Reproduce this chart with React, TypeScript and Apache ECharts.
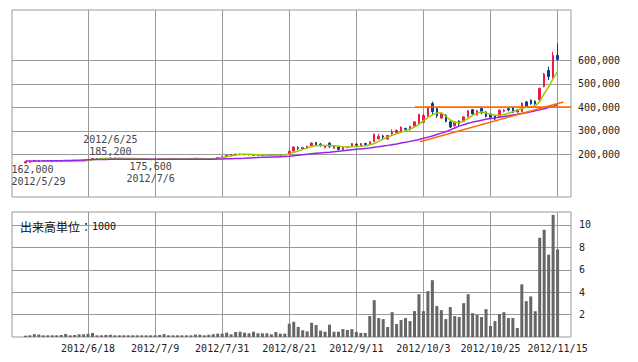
import React, { useEffect, useRef } from 'react';
import * as echarts from 'echarts';

// Daily candles 2012/5/29 - 2012/11/15: [open, close, low, high] (yen)
const ohlc: number[][] = [
  [163000,168000,162000,169000],[166000,170000,165000,171000],[170000,174000,169000,176000],[173000,171000,170000,175000],
  [172000,173000,170000,174000],[174000,171000,170000,175000],[171000,168000,167000,172000],[169000,170000,168000,171000],
  [170000,171000,169000,172000],[171000,172000,170000,173000],[172000,171000,170000,173000],[171000,172000,170000,173000],
  [172000,173000,171000,174000],[173000,172000,171000,174000],[174000,179000,173000,180000],[179000,182000,178000,183000],
  [182000,181000,180000,183000],[181000,183000,180000,184000],[183000,182000,181000,184000],[182000,184000,181000,185200],
  [184000,182000,181000,185000],[182000,183000,181000,184000],[183000,181000,180000,184000],[181000,182000,180000,183000],
  [182000,181000,180000,183000],[181000,180000,179000,182000],[180000,179000,178000,181000],[179000,178000,177000,180000],
  [178000,177000,175600,179000],[177000,179000,176000,180000],[179000,180000,178000,181000],[180000,182000,179000,183000],
  [182000,180000,179000,183000],[180000,181000,179000,182000],[181000,180000,179000,182000],[180000,181000,179000,182000],
  [181000,182000,180000,183000],[182000,183000,181000,184000],[183000,182000,181000,184000],[182000,181000,180000,183000],
  [182000,180000,179000,183000],[180000,181000,179000,182000],[180000,182000,179000,183000],[181000,186000,180000,187000],
  [186000,191000,185000,192000],[191000,196000,190000,197000],[195000,198000,194000,200000],[197000,201000,196000,202000],
  [201000,199000,197000,203000],[198000,200000,196000,201000],[197000,200000,196000,201000],[199000,196000,195000,200000],
  [198000,195000,194000,199000],[196000,195000,194000,197000],[195000,196000,194000,197000],[196000,195000,194000,197000],
  [195000,196000,194000,197000],[196000,199000,195000,200000],[198000,199000,196000,200000],[199000,213000,198000,215000],
  [214000,231000,212000,233000],[228000,225000,218000,234000],[222000,229000,220000,231000],[226000,234000,224000,236000],
  [236000,248000,234000,250000],[250000,241000,239000,252000],[243000,239000,232000,248000],[228000,237000,226000,239000],
  [247000,234000,226000,252000],[226000,236000,224000,238000],[231000,221000,218000,234000],[220000,229000,218000,231000],
  [228000,231000,226000,233000],[234000,246000,232000,248000],[243000,238000,232000,246000],[235000,246000,233000,248000],
  [246000,241000,238000,249000],[242000,253000,240000,255000],[254000,285000,252000,288000],[266000,277000,262000,287000],
  [278000,274000,264000,283000],[265000,280000,262000,282000],[287000,295000,282000,306000],[292000,302000,290000,305000],
  [296000,316000,294000,318000],[310000,307000,298000,313000],[304000,319000,302000,321000],[320000,338000,318000,340000],
  [333000,370000,330000,372000],[336000,365000,333000,372000],[363000,401000,360000,405000],[416000,382000,367000,424000],
  [395000,364000,355000,398000],[354000,374000,350000,378000],[366000,340000,336000,370000],[338000,316000,312000,342000],
  [321000,338000,318000,340000],[342000,330000,318000,345000],[340000,359000,337000,362000],[360000,385000,357000,388000],
  [390000,372000,368000,393000],[368000,385000,365000,388000],[395000,377000,371000,399000],[380000,361000,357000,383000],
  [371000,358000,355000,374000],[365000,350000,346000,368000],[361000,388000,358000,390000],[383000,388000,378000,392000],
  [394000,389000,383000,398000],[399000,378000,375000,402000],[380000,390000,377000,392000],[382000,418000,379000,421000],
  [423000,404000,400000,427000],[430000,415000,411000,434000],[426000,415000,411000,429000],[432000,480000,428000,484000],
  [488000,541000,485000,546000],[557000,531000,516000,573000],[525000,621000,520000,636000],[621000,604000,598000,672000],
];

// Volume (unit: 1000 shares)
const volume: number[] = [
  0.12,0.15,0.25,0.22,0.15,0.15,0.15,0.15,0.18,0.27,
  0.15,0.18,0.24,0.24,0.28,0.36,0.15,0.15,0.18,0.2,
  0.15,0.15,0.15,0.15,0.15,0.15,0.15,0.15,0.15,0.15,
  0.18,0.25,0.15,0.15,0.15,0.15,0.15,0.15,0.22,0.2,
  0.15,0.2,0.25,0.3,0.3,0.39,0.24,0.44,0.47,0.39,
  0.33,0.47,0.33,0.33,0.33,0.24,0.44,0.3,0.3,1.19,
  1.36,0.9,0.6,0.5,1.27,1.07,0.56,0.47,1.1,0.47,
  0.47,0.71,0.63,0.7,0.45,0.36,0.36,1.87,3.29,1.69,
  1.6,0.89,2.22,1.16,1.51,1.69,1.42,2.31,3.82,2.31,
  4.09,5.07,2.76,2.4,1.6,2.67,1.87,1.78,3.02,3.82,
  2.13,1.96,1.78,2.49,0.98,1.42,2.04,2.22,1.69,1.69,
  0.8,4.7,3.2,3.62,2.3,8.86,9.57,7.35,10.9,7.82,
];

// Short moving average (yellow-green)
const maShort: (number | null)[] = [
  null,null,null,null,171000,172000,172000,171000,171000,171000,
  171000,172000,172000,172000,174000,177000,179000,181000,182000,182000,
  182000,183000,182000,182000,182000,181000,181000,180000,179000,178000,
  179000,180000,180000,181000,181000,181000,181000,181000,182000,182000,
  181000,181000,181000,183000,186000,190000,193000,197000,199000,200000,
  200000,199000,198000,197000,196000,196000,196000,197000,198000,201000,
  208000,214000,221000,227000,233000,236000,238000,237000,237000,236000,
  234000,232000,230000,232000,233000,234000,236000,240000,246000,255000,
  265000,273000,281000,287000,294000,300000,307000,316000,327000,342000,
  356000,368000,376000,376000,362000,346000,336000,334000,342000,352000,
  366000,374000,381000,376000,370000,366000,366000,369000,375000,381000,
  389000,395000,400000,402000,406000,424000,458000,488000,522000,553000,
];

// Long moving average (purple)
const maLong: number[] = [
  171000,171000,171500,172000,172000,172500,172500,173000,173000,173500,
  174000,174500,175000,176000,177000,177500,178000,178000,178000,178500,
  178500,178500,178500,179000,179000,179000,179000,179000,179000,179000,
  179000,179000,179000,179000,179000,179000,179000,179000,179000,179000,
  179000,179000,179000,179500,180000,181000,181000,182000,182500,183000,
  184000,185000,186000,187000,187000,188000,189000,190000,191000,192000,
  194000,196000,198000,200000,202000,204000,206000,208000,209000,211000,
  213000,215000,217000,219000,221000,223000,225000,227000,230000,232000,
  235000,238000,241000,244000,248000,251000,255000,259000,263000,268000,
  273000,278000,284000,290000,296000,304000,312000,320000,326000,332000,
  337000,341000,345000,349000,352000,355000,358000,361000,364000,367000,
  370000,374000,377000,381000,385000,389000,394000,399000,404000,411000,
];

const tickIndex = [14, 29, 44, 59, 74, 89, 104, 119];
const tickLabels = ['2012/6/18', '2012/7/9', '2012/7/31', '2012/8/21', '2012/9/11', '2012/10/3', '2012/10/25', '2012/11/15'];
const priceTicks = [200000, 300000, 400000, 500000, 600000];
const volumeTicks = [2, 4, 6, 8, 10];

const annotations = [
  { index: 19, value: 185200, date: '2012/6/25', side: 'top' },
  { index: 28, value: 175600, date: '2012/7/6', side: 'bottom' },
  { index: 0, value: 162000, date: '2012/5/29', side: 'bottomLeft' },
];

const resistanceLine = { from: 87.1, to: 122, value: 401000 };
const trendLine = { from: [88.2, 253600], to: [120.3, 422500] };

const UP = '#f01848';
const DOWN = '#0c3a8e';
const GRID = '#999999';
const ORANGE = '#ff6a00';
const FONT = 'DejaVu Sans Mono';

const fmt = (v: number) => v.toLocaleString('en-US');

export default function App() {
  const ref = useRef<HTMLDivElement>(null);
  useEffect(() => {
    document.body.style.margin = '0';
    if (!ref.current) return;
    const chart = echarts.init(ref.current, undefined, { renderer: 'svg' });
    const labelStyle = { fontFamily: FONT, fontSize: 10, color: '#222' };
    const option: any = {
      animation: false,
      title: {
        text: '{a|出来高単位：}{b|1000}',
        left: 15,
        top: 215,
        textStyle: {
          fontWeight: 'normal',
          rich: {
            a: { fontFamily: 'Noto Sans CJK JP', fontSize: 12, fontWeight: 'normal', color: '#111' },
            b: { fontFamily: FONT, fontSize: 10, fontWeight: 'normal', color: '#111' },
          },
        },
      },
      grid: [
        { left: 12, top: 10, width: 559, height: 187, show: true, borderColor: GRID, borderWidth: 1 },
        { left: 12, top: 212, width: 559, height: 125, show: true, borderColor: GRID, borderWidth: 1 },
      ],
      xAxis: [
        {
          type: 'value', gridIndex: 0, min: -3, max: 122,
          axisLine: { show: false },
          axisTick: { show: false, customValues: tickIndex },
          axisLabel: { show: false, customValues: tickIndex },
          splitLine: { show: true, lineStyle: { color: GRID, width: 1 } },
        },
        {
          type: 'value', gridIndex: 1, min: -3, max: 122,
          axisLine: { show: false },
          axisTick: { show: false, customValues: tickIndex },
          axisLabel: {
            ...labelStyle,
            margin: 6,
            customValues: tickIndex,
            formatter: (v: number) => {
              const k = tickIndex.indexOf(Math.round(v));
              return k >= 0 ? tickLabels[k] : '';
            },
          },
          splitLine: { show: true, lineStyle: { color: GRID, width: 1 } },
        },
      ],
      yAxis: [
        {
          type: 'value', gridIndex: 0, position: 'right', min: 18300, max: 814000,
          axisLine: { show: false },
          axisTick: { show: true, length: 3, customValues: priceTicks, lineStyle: { color: GRID } },
          axisLabel: { ...labelStyle, margin: 7, customValues: priceTicks, formatter: (v: number) => fmt(v) },
          splitLine: { show: true, lineStyle: { color: GRID, width: 1 } },
        },
        {
          type: 'value', gridIndex: 1, position: 'right', min: 0, max: 11.16,
          axisLine: { show: false },
          axisTick: { show: true, length: 3, customValues: volumeTicks, lineStyle: { color: GRID } },
          axisLabel: { ...labelStyle, margin: 8, customValues: volumeTicks },
          splitLine: { show: true, lineStyle: { color: GRID, width: 1 } },
        },
      ],
      series: [
        {
          type: 'candlestick',
          xAxisIndex: 0, yAxisIndex: 0,
          data: ohlc.map((r, i) => [i, r[0], r[1], r[2], r[3]]),
          encode: { x: 0, y: [1, 2, 3, 4] },
          barWidth: 2,
          itemStyle: { color: UP, color0: DOWN, borderColor: UP, borderColor0: DOWN, borderWidth: 1 },
          markPoint: {
            silent: true,
            symbol: 'circle',
            symbolSize: 0,
            data: annotations.map((a) => {
              const label: any = { show: true, fontFamily: FONT, fontSize: 10, color: '#444', lineHeight: 11.5 };
              if (a.side === 'top') {
                label.position = 'top';
                label.distance = 1;
                label.formatter = `${a.date}\n${fmt(a.value)}`;
              } else if (a.side === 'bottom') {
                label.position = 'bottom';
                label.distance = 1;
                label.formatter = `${fmt(a.value)}\n${a.date}`;
              } else {
                label.position = 'bottom';
                label.distance = 1;
                label.align = 'left';
                label.offset = [-14, 0];
                label.formatter = `${fmt(a.value)}\n${a.date}`;
              }
              return { coord: [a.index, a.value], value: a.value, label };
            }),
          },
          markLine: {
            silent: true,
            symbol: ['none', 'none'],
            label: { show: false },
            lineStyle: { color: ORANGE, width: 1.5, type: 'solid', opacity: 1 },
            data: [
              [
                { coord: [resistanceLine.from, resistanceLine.value], lineStyle: { color: ORANGE, width: 1.5 } },
                { coord: [resistanceLine.to, resistanceLine.value] },
              ],
              [{ coord: trendLine.from }, { coord: trendLine.to }],
            ],
          },
        },
        {
          type: 'line',
          xAxisIndex: 0, yAxisIndex: 0,
          data: maShort.map((v, i) => [i, v]).filter((d) => d[1] != null),
          showSymbol: false,
          lineStyle: { color: '#99cc00', width: 1.5 },
          itemStyle: { color: '#99cc00' },
        },
        {
          type: 'line',
          xAxisIndex: 0, yAxisIndex: 0,
          data: maLong.map((v, i) => [i, v]),
          showSymbol: false,
          lineStyle: { color: '#9922ee', width: 1.5 },
          itemStyle: { color: '#9922ee' },
        },
        {
          type: 'bar',
          xAxisIndex: 1, yAxisIndex: 1,
          data: volume.map((v, i) => [i, v]),
          barWidth: 3,
          itemStyle: { color: '#666666' },
        },
      ],
    };
    chart.setOption(option);
    return () => chart.dispose();
  }, []);
  return <div ref={ref} style={{ width: 638, height: 362 }} />;
}
